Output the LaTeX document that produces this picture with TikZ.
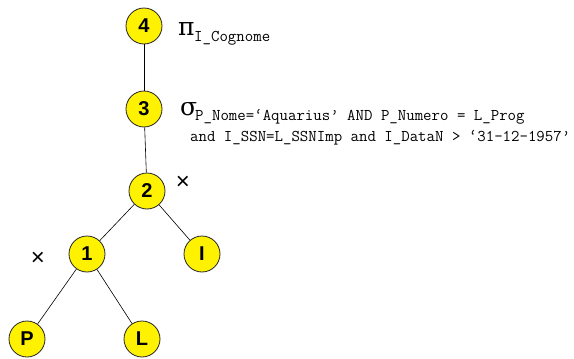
\documentclass[tikz,border=0pt]{standalone}
\usepackage{fontspec}
\setmainfont{Liberation Sans}
\newfontfamily\greekfont{DejaVu Serif}
\tikzset{
  opnode/.style={circle,draw=black!85,line width=0.8pt,fill=yellow,minimum size=36pt,inner sep=0pt,font=\fontsize{20}{20}\selectfont\bfseries},
  optext/.style={anchor=base west,inner sep=0pt,font=\fontsize{16.4}{16.4}\selectfont\ttfamily},
  opsym/.style={anchor=base west,inner sep=0pt,font=\fontsize{25}{25}\selectfont\greekfont},
  prodmark/.style={inner sep=0pt,font=\fontsize{24}{24}\selectfont}
}
\begin{document}
\begin{tikzpicture}[x=1pt,y=-1pt]
\useasboundingbox (0,0) rectangle (574,359);
% operator tree
\node[opnode] (n4) at (144,26) {4};
\node[opnode] (n3) at (144,109) {3};
\node[opnode] (n2) at (147,191) {2};
\node[opnode] (n1) at (87,254) {1};
\node[opnode] (nI) at (202,254) {I};
\node[opnode] (nP) at (27,339) {P};
\node[opnode] (nL) at (142,339) {L};
\draw[line width=0.6pt] (n4) -- (n3);
\draw[line width=0.6pt] (n3) -- (n2);
\draw[line width=0.6pt] (n2) -- (n1);
\draw[line width=0.6pt] (n2) -- (nI);
\draw[line width=0.6pt] (n1) -- (nP);
\draw[line width=0.6pt] (n1) -- (nL);
% projection and selection
\node[opsym] (pi) at (178,35) {π};
\node[optext] (pisub) at (194,41) {I\_Cognome};
\node[opsym] (sigma) at (180,115) {σ};
\node[optext] (sigsubA) at (195,120) {P\_Nome=‘Aquarius’ AND P\_Numero = L\_Prog};
\node[optext] (sigsubB) at (190,141) {and I\_SSN=L\_SSNImp and I\_DataN > ‘31-12-1957’};
% joins
\node[prodmark] (x2) at (183,183) {×};
\node[prodmark] (x1) at (38,259) {×};
\end{tikzpicture}
\end{document}
